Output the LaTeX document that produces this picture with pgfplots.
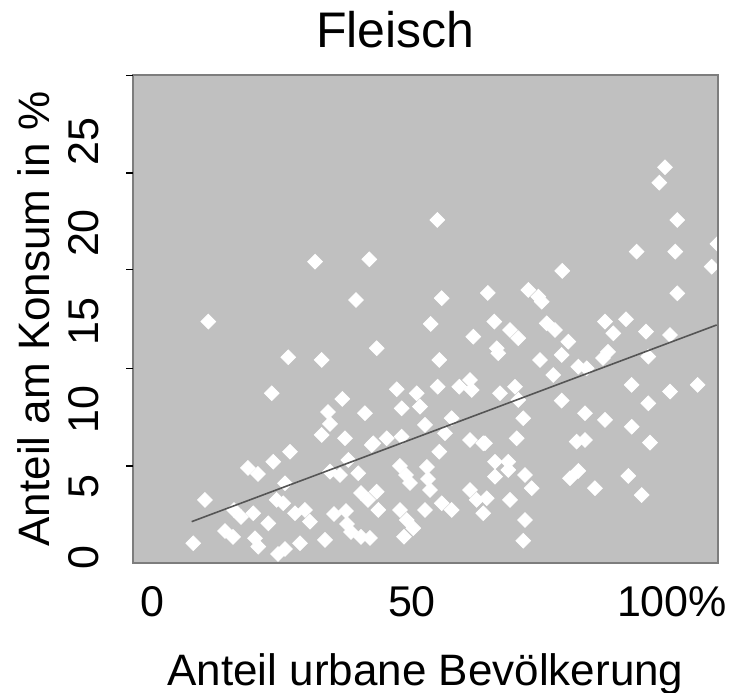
\documentclass[border=0pt]{standalone}
\usepackage{pgfplots}
\pgfplotsset{compat=1.18}
\usepackage{fontspec}
\setmainfont{Liberation Sans}
\definecolor{bggray}{RGB}{192,192,192}
\definecolor{framegray}{RGB}{125,125,125}
\definecolor{linegray}{RGB}{85,85,85}
\pgfplotstableread{
x y
31.35 18.29
41.79 18.43
39.23 16.00
10.83 14.71
54.87 20.78
98.65 23.93
97.56 23.01
101.02 20.78
93.21 18.89
100.63 18.89
108.75 19.35
107.63 17.99
78.90 17.74
55.71 16.11
64.58 16.42
72.37 16.60
74.29 16.20
74.94 15.90
101.02 16.40
87.12 14.71
88.71 14.01
91.15 14.85
95.00 14.11
99.62 13.91
87.69 12.90
86.73 12.54
95.44 12.62
92.25 10.93
99.62 10.53
104.94 10.93
95.44 9.83
87.12 8.84
92.25 8.43
95.77 7.48
91.60 5.49
94.17 4.35
65.83 14.71
68.85 14.21
70.44 13.72
75.90 14.61
77.50 14.21
66.29 13.12
66.60 12.82
74.62 12.42
80.06 13.51
78.79 12.72
81.98 12.02
83.60 11.92
77.17 11.52
69.81 10.82
66.92 10.43
70.44 10.03
78.79 9.99
71.40 8.94
83.27 9.24
64.04 7.44
70.13 7.74
81.67 7.54
83.27 7.64
65.96 6.34
68.52 6.34
65.96 5.45
68.52 5.85
71.73 5.55
73.02 4.76
81.98 5.79
80.38 5.35
85.19 4.76
64.37 4.16
68.85 4.06
71.73 2.86
71.40 1.62
43.21 13.12
47.06 10.67
50.90 10.43
51.54 9.63
48.02 9.53
52.50 8.54
45.13 7.74
48.02 7.84
42.56 7.44
47.69 6.09
48.85 5.55
49.62 5.07
52.88 6.03
53.08 5.31
53.46 4.65
43.21 4.55
43.52 3.46
52.50 3.46
47.69 3.46
48.98 2.86
50.25 2.37
48.46 1.86
55.71 3.86
57.63 3.46
61.15 4.65
62.44 4.06
63.71 3.26
55.25 6.94
56.35 8.04
57.63 8.94
54.94 10.82
59.10 10.82
61.15 11.22
61.48 10.63
55.25 12.42
53.60 14.57
61.79 13.81
61.15 7.64
63.71 7.44
41.92 1.79
7.94 1.47
10.19 4.06
14.04 2.20
15.58 1.85
15.77 3.46
17.12 3.04
19.48 3.26
18.46 5.97
20.38 5.61
19.81 1.77
20.44 1.27
22.37 2.66
23.98 4.06
25.25 3.86
23.33 6.34
25.58 5.05
26.54 6.94
24.23 0.83
25.58 1.13
27.50 3.26
29.42 3.46
30.38 2.76
28.46 1.47
33.27 1.67
35.00 3.22
37.31 3.40
37.50 2.62
38.27 2.14
40.19 1.85
40.19 4.47
41.54 4.06
34.23 5.75
36.15 5.55
39.67 5.65
37.75 6.45
32.63 7.94
37.12 7.74
42.25 7.34
33.85 9.31
34.23 8.60
40.96 9.24
36.60 10.09
23.02 10.43
26.21 12.58
32.63 12.42
}\fleisch
\begin{document}
\begin{tikzpicture}
\useasboundingbox (0,0) rectangle (365.5pt,346pt);
\begin{axis}[
  at={(66.5pt,64.5pt)}, anchor=south west,
  width=292.5pt, height=244pt, scale only axis,
  xmin=-3.65, xmax=108.85, ymin=0.29, ymax=29.44,
  axis background/.style={fill=bggray},
  axis line style={framegray, line width=1pt},
  axis on top, clip marker paths=true,
  tick align=outside, major tick length=3.5pt,
  xtick={0,50,100}, xticklabels={0,50,100\%},
  x tick style={draw=none},
  xtick pos=bottom, ytick pos=left,
  ytick={0.59,4.83,9.44,14.69,20.0,25.45}, yticklabels={0,5,10,15,20,25},
  y tick style={draw=none},
  extra y ticks={6.09,11.89,17.80,23.59,29.4},
  extra y tick labels={},
  extra y tick style={y tick style={draw=black, line width=0.6pt}},
  ticklabel style={font=\fontsize{21.5}{24}\selectfont, inner sep=0pt},
  yticklabel style={xshift=-13.5pt, rotate=90, anchor=south},
  xticklabel style={anchor=north, yshift=-8pt},
  xlabel={Anteil urbane Bevölkerung},
  ylabel={Anteil am Konsum in \%},
  label style={font=\fontsize{22}{24}\selectfont, inner sep=0pt},
  xlabel style={at={(axis description cs:0.5,0)}, anchor=north, yshift=-45pt},
  ylabel style={at={(axis description cs:-0.1419,0.5)}, anchor=south},
  title={Fleisch},
  title style={font=\fontsize{25}{28}\selectfont, inner sep=0pt, at={(axis description cs:0.5,1)}, anchor=base, yshift=7.5pt, xshift=-15pt},
]
\addplot[only marks, mark=square*, mark size=2.6pt, mark options={rotate=45, fill=white, draw=white}] table[x=x, y=y] {\fleisch};
\addplot[linegray, line width=0.8pt] coordinates {(7.63,2.76) (108.6,14.51)};
\end{axis}
\end{tikzpicture}
\end{document}
